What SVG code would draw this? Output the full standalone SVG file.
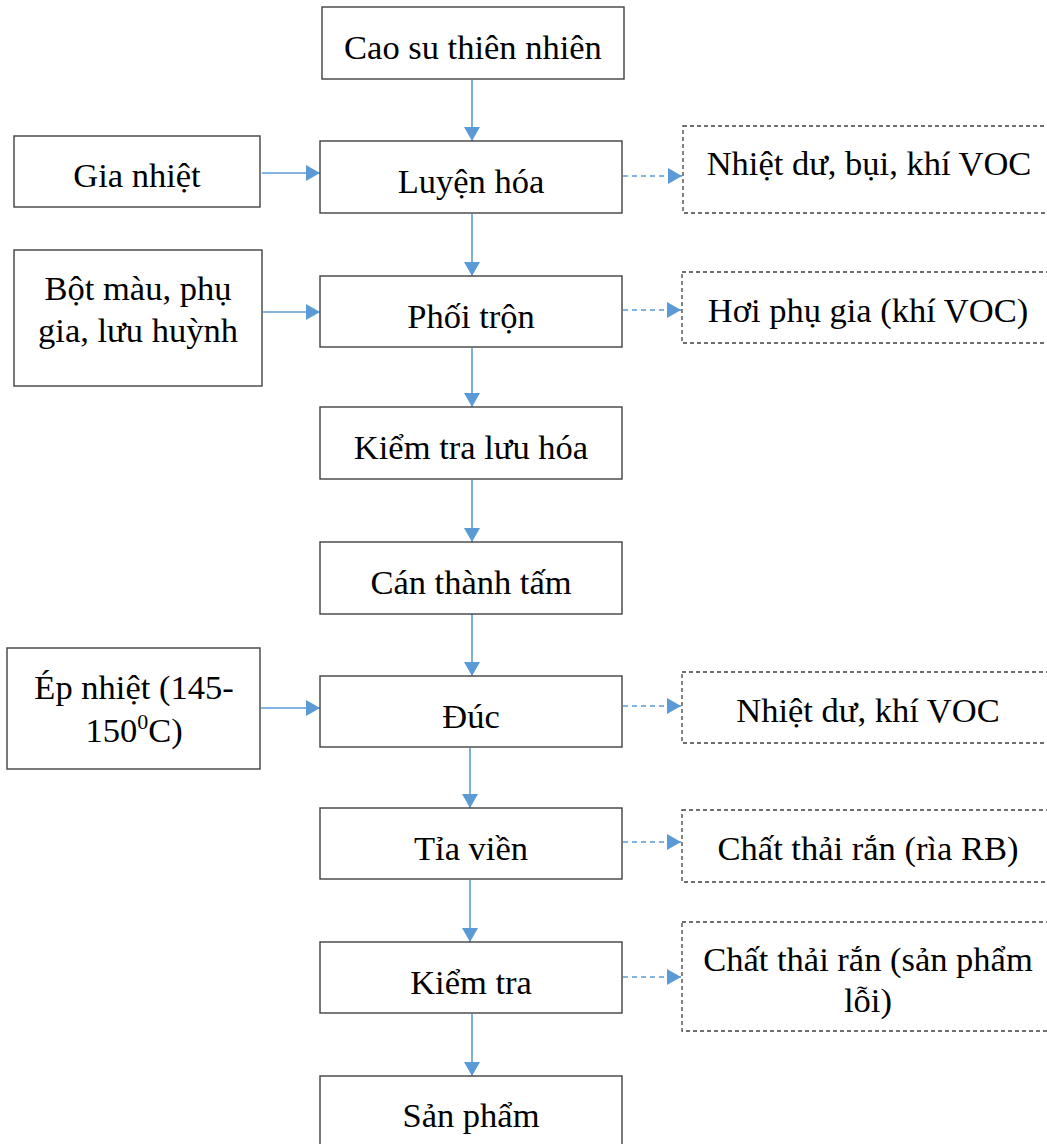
<svg xmlns="http://www.w3.org/2000/svg" width="1047" height="1144" viewBox="0 0 1047 1144">
  <style>
    .box { fill: #ffffff; stroke: #404040; stroke-width: 1.4; }
    .dbox { fill: #ffffff; stroke: #404040; stroke-width: 1.3; stroke-dasharray: 4 3; }
    .lbl { font-family: "Liberation Serif", "Times New Roman", serif; font-size: 34.5px; fill: #000000; text-anchor: middle; }
    .flow { stroke: #5B9BD5; stroke-width: 1.6; fill: none; marker-end: url(#head); }
    .out { stroke: #5B9BD5; stroke-width: 1.6; fill: none; stroke-dasharray: 5 4; marker-end: url(#head); }
  </style>
  <defs>
    <marker id="head" markerUnits="userSpaceOnUse" markerWidth="16" markerHeight="16" viewBox="0 0 14 16" refX="14" refY="8" orient="auto">
      <path d="M0,0 L14,8 L0,16 Z" fill="#5B9BD5"/>
    </marker>
  </defs>

  <rect width="1047" height="1144" fill="#ffffff"/>

  <!-- connectors -->
  <g id="connectors">
    <!-- main flow -->
    <line class="flow" x1="472" y1="80" x2="472" y2="141"/>
    <line class="flow" x1="472" y1="214" x2="472" y2="276"/>
    <line class="flow" x1="472" y1="348" x2="472" y2="407"/>
    <line class="flow" x1="472" y1="480" x2="472" y2="542"/>
    <line class="flow" x1="472" y1="614" x2="472" y2="676"/>
    <line class="flow" x1="470" y1="748" x2="470" y2="808"/>
    <line class="flow" x1="470" y1="880" x2="470" y2="942"/>
    <line class="flow" x1="472" y1="1014" x2="472" y2="1076"/>
    <!-- inputs -->
    <line class="flow" x1="262" y1="173" x2="320" y2="173"/>
    <line class="flow" x1="263" y1="312" x2="320" y2="312"/>
    <line class="flow" x1="261" y1="708" x2="320" y2="708"/>
    <!-- emissions -->
    <line class="out" x1="623" y1="176" x2="682" y2="176"/>
    <line class="out" x1="623" y1="310" x2="681" y2="310"/>
    <line class="out" x1="623" y1="706" x2="681" y2="706"/>
    <line class="out" x1="623" y1="842" x2="681" y2="842"/>
    <line class="out" x1="623" y1="977" x2="681" y2="977"/>
  </g>

  <!-- process steps -->
  <g id="n-cao-su">
    <rect class="box" x="322" y="7" width="302" height="72"/>
    <text class="lbl" x="473" y="59">Cao su thiên nhiên</text>
  </g>
  <g id="n-luyen-hoa">
    <rect class="box" x="320" y="141" width="302" height="72"/>
    <text class="lbl" x="471" y="193">Luyện hóa</text>
  </g>
  <g id="n-phoi-tron">
    <rect class="box" x="320" y="276" width="302" height="71"/>
    <text class="lbl" x="471" y="328">Phối trộn</text>
  </g>
  <g id="n-kiem-tra-luu-hoa">
    <rect class="box" x="320" y="407" width="302" height="72"/>
    <text class="lbl" x="471" y="459">Kiểm tra lưu hóa</text>
  </g>
  <g id="n-can-thanh-tam">
    <rect class="box" x="320" y="542" width="302" height="72"/>
    <text class="lbl" x="471" y="594">Cán thành tấm</text>
  </g>
  <g id="n-duc">
    <rect class="box" x="320" y="676" width="302" height="71"/>
    <text class="lbl" x="471" y="728">Đúc</text>
  </g>
  <g id="n-tia-vien">
    <rect class="box" x="320" y="808" width="302" height="71"/>
    <text class="lbl" x="471" y="860">Tỉa viền</text>
  </g>
  <g id="n-kiem-tra">
    <rect class="box" x="320" y="942" width="302" height="71"/>
    <text class="lbl" x="471" y="994">Kiểm tra</text>
  </g>
  <g id="n-san-pham">
    <rect class="box" x="320" y="1076" width="302" height="80"/>
    <text class="lbl" x="471" y="1127">Sản phẩm</text>
  </g>

  <!-- inputs -->
  <g id="n-gia-nhiet">
    <rect class="box" x="14" y="136" width="246" height="71"/>
    <text class="lbl" x="137" y="187">Gia nhiệt</text>
  </g>
  <g id="n-bot-mau">
    <rect class="box" x="14" y="250" width="248" height="136"/>
    <text class="lbl" x="138" y="300">Bột màu, phụ</text>
    <text class="lbl" x="138" y="342">gia, lưu huỳnh</text>
  </g>
  <g id="n-ep-nhiet">
    <rect class="box" x="7" y="648" width="253" height="121"/>
    <text class="lbl" x="134" y="699">Ép nhiệt (145-</text>
    <text class="lbl" x="134" y="742">150<tspan font-size="22" dy="-13">0</tspan><tspan dy="13">C)</tspan></text>
  </g>

  <!-- emissions / waste -->
  <g id="n-nhiet-du-bui">
    <rect class="dbox" x="683" y="126" width="372" height="87"/>
    <text class="lbl" x="869" y="175">Nhiệt dư, bụi, khí VOC</text>
  </g>
  <g id="n-hoi-phu-gia">
    <rect class="dbox" x="682" y="272" width="373" height="71"/>
    <text class="lbl" x="868" y="322">Hơi phụ gia (khí VOC)</text>
  </g>
  <g id="n-nhiet-du-voc">
    <rect class="dbox" x="682" y="672" width="373" height="71"/>
    <text class="lbl" x="868" y="722">Nhiệt dư, khí VOC</text>
  </g>
  <g id="n-ctr-ria">
    <rect class="dbox" x="682" y="810" width="373" height="72"/>
    <text class="lbl" x="868" y="860">Chất thải rắn (rìa RB)</text>
  </g>
  <g id="n-ctr-loi">
    <rect class="dbox" x="682" y="922" width="373" height="109"/>
    <text class="lbl" x="868" y="971">Chất thải rắn (sản phẩm</text>
    <text class="lbl" x="868" y="1012">lỗi)</text>
  </g>
</svg>
